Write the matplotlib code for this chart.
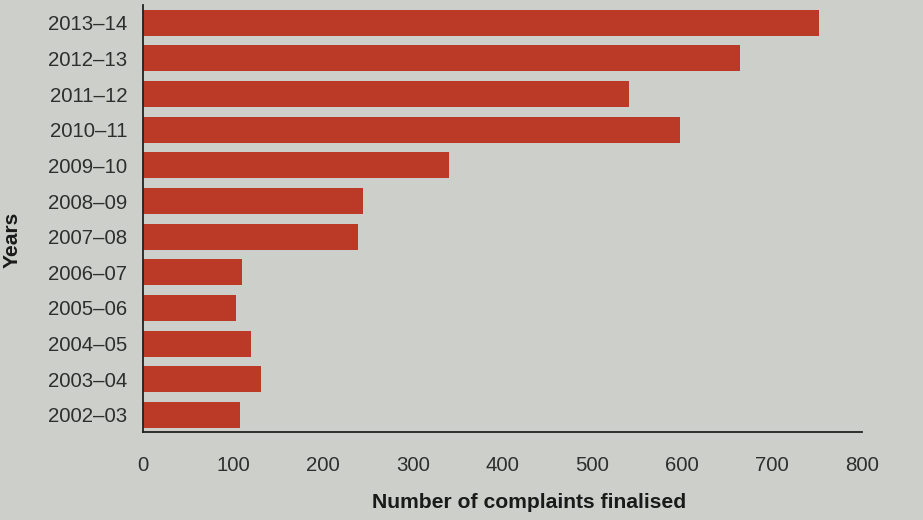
import matplotlib
matplotlib.use("Agg")
import matplotlib.pyplot as plt

years = ["2002–03", "2003–04", "2004–05", "2005–06", "2006–07", "2007–08",
         "2008–09", "2009–10", "2010–11", "2011–12", "2012–13", "2013–14"]
complaints = [108, 131, 120, 104, 110, 239, 245, 341, 598, 541, 664, 752]
xticks = [0, 100, 200, 300, 400, 500, 600, 700, 800]

bg = "#CDD0CA"
bar_color = "#BA3A27"
text_color = "#2e2e2e"

plt.rcParams['font.family'] = ['Liberation Sans', 'DejaVu Sans']

fig = plt.figure(figsize=(9.23, 5.2), dpi=100, facecolor=bg)
ax = fig.add_axes([143/923, 1-432/520, 719/923, 427/520])
ax.set_facecolor(bg)

ypos = list(range(len(years)))
ax.barh(ypos, complaints, height=0.73, color=bar_color, zorder=2)

ax.set_xlim(0, 800)
ax.set_ylim(-0.48, 11.5)
ax.set_yticks(ypos)
ax.set_yticklabels(years)
ax.set_xticks(xticks)
ax.set_xticklabels([str(t) for t in xticks])
ax.tick_params(axis='both', length=0, labelsize=14.7, labelcolor=text_color)
ax.tick_params(axis='y', pad=11.5)
ax.tick_params(axis='x', pad=17)

for s in ['top', 'right']:
    ax.spines[s].set_visible(False)
for s in ['left', 'bottom']:
    ax.spines[s].set_color('#222222')
    ax.spines[s].set_linewidth(1.3)

fig.text(529/923, 1-503/520, "Number of complaints finalised", ha='center', va='center',
         fontsize=15.2, fontweight='bold', color='#1a1a1a')
fig.text(12/923, 1-240/520, "Years", ha='center', va='center', rotation=90,
         fontsize=15.2, fontweight='bold', color='#1a1a1a')

fig.savefig("out.png", dpi=100, facecolor=bg)
